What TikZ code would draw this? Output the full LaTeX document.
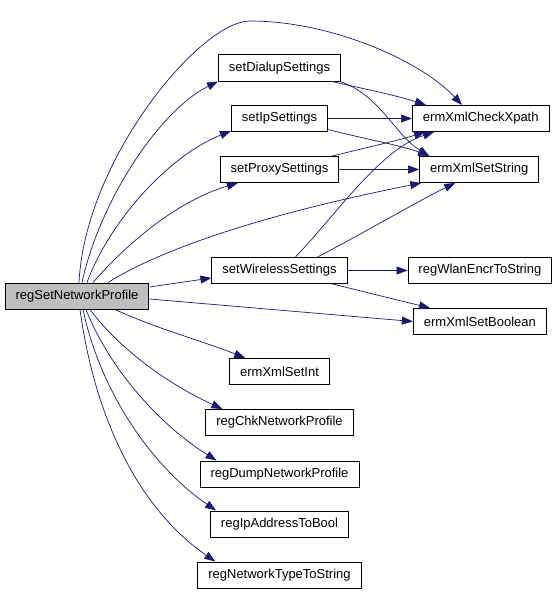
\documentclass[tikz,border=0pt]{standalone}
\usepackage{fontspec}
\setmainfont{Liberation Sans}
\usetikzlibrary{positioning,arrows.meta}
\definecolor{edgeblue}{HTML}{191970}
\definecolor{rootgray}{HTML}{BFBFBF}

\begin{document}
\begin{tikzpicture}[x=1pt,y=-1pt,
  fn/.style={draw,line width=0.9pt,minimum height=26.1pt,inner xsep=10.5pt,inner ysep=0pt,font=\fontsize{13}{15}\selectfont},
  call/.style={draw=edgeblue,line width=0.7pt,-{Triangle[length=11pt,width=8pt]}}]
\useasboundingbox (0,0) rectangle (557,593);
\node[fn,fill=rootgray](root) at (77,296){regSetNetworkProfile};
\node[fn](dial) at (279.5,68){setDialupSettings};
\node[fn, below=23.5pt of dial](ip){setIpSettings};
\node[fn, below=24pt of ip](proxy){setProxySettings};
\node[fn, below=74pt of proxy](wire){setWirelessSettings};
\node[fn, below=74pt of wire](xint){ermXmlSetInt};
\node[fn, below=24pt of xint](chk){regChkNetworkProfile};
\node[fn, below=24.5pt of chk](dump){regDumpNetworkProfile};
\node[fn, below=23pt of dump](ipb){regIpAddressToBool};
\node[fn, below=24pt of ipb](ntype){regNetworkTypeToString};
\node[fn, right=84pt of ip](xpath){ermXmlCheckXpath};
\node[fn, right=80pt of proxy](sstr){ermXmlSetString};
\node[fn, right=60pt of wire](wlan){regWlanEncrToString};
\node[fn, below=24pt of wlan](sbool){ermXmlSetBoolean};
% calls out of regSetNetworkProfile
\draw[call] ([xshift=2pt]root.north) .. controls (85,160) and (200,21) .. (250,21) .. controls (330,21) and (420,60) .. ([xshift=50pt]xpath.north west);
\draw[call] ([xshift=5pt]root.north) .. controls (100,200) and (160,110) .. (dial.south west);
\draw[call] ([xshift=10pt]root.north) .. controls (110,220) and (170,155) .. ([yshift=1pt]ip.south west);
\draw[call] ([xshift=16pt]root.north) .. controls (130,240) and (180,200) .. ([xshift=18pt]proxy.south west);
\draw[call] ([xshift=31pt]root.north) .. controls (160,250) and (260,215) .. ([xshift=2pt]sstr.south west);
\draw[call] ([yshift=9pt]root.east) -- ([yshift=6pt]wire.south west);
\draw[call] ([yshift=-3pt]root.east) -- (sbool.west);
\draw[call] ([xshift=38pt]root.south) .. controls (160,330) and (200,340) .. ([xshift=16pt]xint.north west);
\draw[call] ([xshift=13pt]root.south) .. controls (120,350) and (170,385) .. ([xshift=17pt]chk.north west);
\draw[call] ([xshift=9pt]root.south) .. controls (110,370) and (160,425) .. ([xshift=17pt]dump.north west);
\draw[call] ([xshift=6pt]root.south) .. controls (100,390) and (150,465) .. ([xshift=6pt]ipb.north west);
\draw[call] ([xshift=3pt]root.south) .. controls (95,420) and (140,510) .. ([xshift=18pt]ntype.north west);
% second level
\draw[call] ([xshift=-9pt]dial.south east) .. controls (360,88) and (395,95) .. ([xshift=14pt]xpath.north west);
\draw[call] ([xshift=-1pt]dial.south east) .. controls (380,95) and (395,135) .. ([xshift=10pt]sstr.north west);
\draw[call] (ip.east) -- (xpath.west);
\draw[call] ([yshift=-11pt]ip.east) .. controls (360,138) and (400,145) .. ([xshift=10pt]sstr.north west);
\draw[call] ([xshift=-7pt]proxy.north east) .. controls (365,148) and (400,140) .. ([xshift=13pt]xpath.south west);
\draw[call] (proxy.east) -- (sstr.west);
\draw[call] ([xshift=16pt]wire.north) .. controls (340,210) and (380,150) .. ([xshift=22pt]xpath.south west);
\draw[call] ([xshift=38pt]wire.north) .. controls (360,235) and (420,200) .. ([xshift=36pt]sstr.south west);
\draw[call] (wire.east) -- (wlan.west);
\draw[call] ([xshift=-15pt]wire.south east) -- ([xshift=17pt]sbool.north west);
\end{tikzpicture}
\end{document}
